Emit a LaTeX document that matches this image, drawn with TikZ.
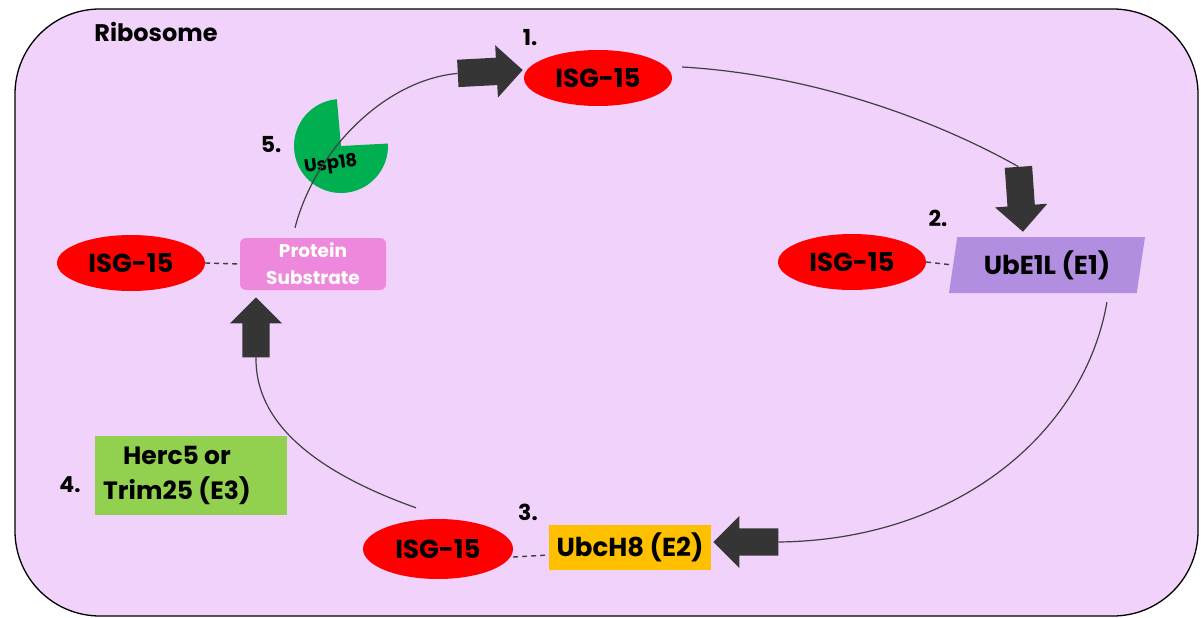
\documentclass[tikz,border=0pt]{standalone}
\usepackage{fontspec}
\setmainfont{Poppins}
\usetikzlibrary{shapes.geometric,shapes.arrows}
\definecolor{ribo}{HTML}{F0D2FA}
\definecolor{isgred}{HTML}{FF0000}
\definecolor{subpink}{HTML}{EE88DC}
\definecolor{e1purple}{HTML}{B28EE0}
\definecolor{e2yellow}{HTML}{FFC000}
\definecolor{e3green}{HTML}{92D050}
\definecolor{uspgreen}{HTML}{00B050}
\definecolor{arrowgray}{HTML}{353535}
\definecolor{linegray}{HTML}{404040}
\begin{document}
\begin{tikzpicture}
			[x=1pt,y=-1pt,
			isg/.style={ellipse,fill=isgred,minimum width=148pt,minimum height=56pt,font=\bfseries\fontsize{26}{30}\selectfont},
			enzyme/.style={fill=#1,font=\bfseries\fontsize{26}{30}\selectfont},
			bigarrow/.style={single arrow,fill=arrowgray,inner xsep=0pt,inner ysep=13.5pt,single arrow head extend=12.5pt,minimum height=65pt},
			stepnum/.style={font=\bfseries\fontsize{22}{26}\selectfont},
			cycle/.style={draw=linegray,line width=1.2pt},
			bond/.style={draw=linegray,line width=1.4pt,dash pattern=on 5pt off 4pt}]
			\useasboundingbox (0,0) rectangle (1203,618);
			\draw[fill=ribo,rounded corners=85pt,line width=1.3pt] (15,9) rectangle (1198,616);
			\node[font=\bfseries\fontsize{24}{28}\selectfont] (ribo) at (156,32) {Ribosome};
			\node[isg] (isgT) at (598,78) {ISG-15};
			\node[isg] (isgR) at (852,262) {ISG-15};
			\node[isg,minimum height=60pt,minimum width=150pt] (isgB) at (438,549) {ISG-15};
			\node[isg] (isgL) at (131,263) {ISG-15};
			\node[trapezium,trapezium left angle=77,trapezium right angle=103,trapezium stretches body,
				enzyme=e1purple,minimum width=196pt,minimum height=56pt] (ube) at (1047,265) {UbE1L (E1)};
			\node[enzyme=e2yellow,minimum width=162pt,minimum height=45pt] (ubc) at (630,547) {UbcH8 (E2)};
			\node[enzyme=e3green,minimum width=192pt,minimum height=79pt] (herc) at (191,475) {};
			\node[align=center,font=\bfseries\fontsize{25}{35}\selectfont] (hercText) at ([xshift=-14pt]herc.center) {Herc5 or\\Trim25 (E3)};
			\node[fill=subpink,rounded corners=6pt,minimum width=146pt,minimum height=52pt,text=white,align=center,
				font=\bfseries\fontsize{18.5}{27}\selectfont] (sub) at (313,264) {Protein\\Substrate};
			\node[stepnum] (n1) at (530,38) {1.};
			\node[stepnum] (n2) at (938,218) {2.};
			\node[stepnum] (n3) at (528,512) {3.};
			\node[stepnum] (n4) at (70,485) {4.};
			\node[stepnum] (n5) at (271,145) {5.};
			% Usp18 cuts the bond
			\fill[uspgreen] (341,146) -- ++(-3:47) arc[start angle=-3,end angle=265,radius=47] -- cycle;
			\node[rotate=8,font=\bfseries\fontsize{18}{20}\selectfont] (usp) at (331,165) {Usp18};
			\node[bigarrow,anchor=tip,rotate=3] (a1) at (523,70) {};
			\node[bigarrow,anchor=tip,rotate=-86] (a2) at (1023,232) {};
			\node[bigarrow,anchor=tip,rotate=180] (a3) at (713,542) {};
			\node[bigarrow,anchor=tip,rotate=90,minimum height=60pt] (a4) at (256,297) {};
			\draw[cycle] ([xshift=-18pt,yshift=10pt]sub.north) .. controls (315,150) and (385,80) .. (a1.tail);
			\draw[cycle] ([xshift=10pt,yshift=11pt]isgT.east) .. controls (820,75) and (945,125) .. (a2.tail);
			\draw[cycle] ([xshift=-30pt,yshift=-9pt]ube.bottom right corner) .. controls (1085,430) and (960,540) .. (a3.tail);
			\draw[cycle] ([xshift=-22pt,yshift=11pt]isgB.north) .. controls (310,470) and (255,420) .. (a4.tail);
			\path[bond]
			(isgL.east) edge (sub.west)
			(isgR.east) edge (ube.west)
			([yshift=-8pt]isgB.east) edge ([yshift=-8pt]ubc.west);
		\end{tikzpicture}
\end{document}
